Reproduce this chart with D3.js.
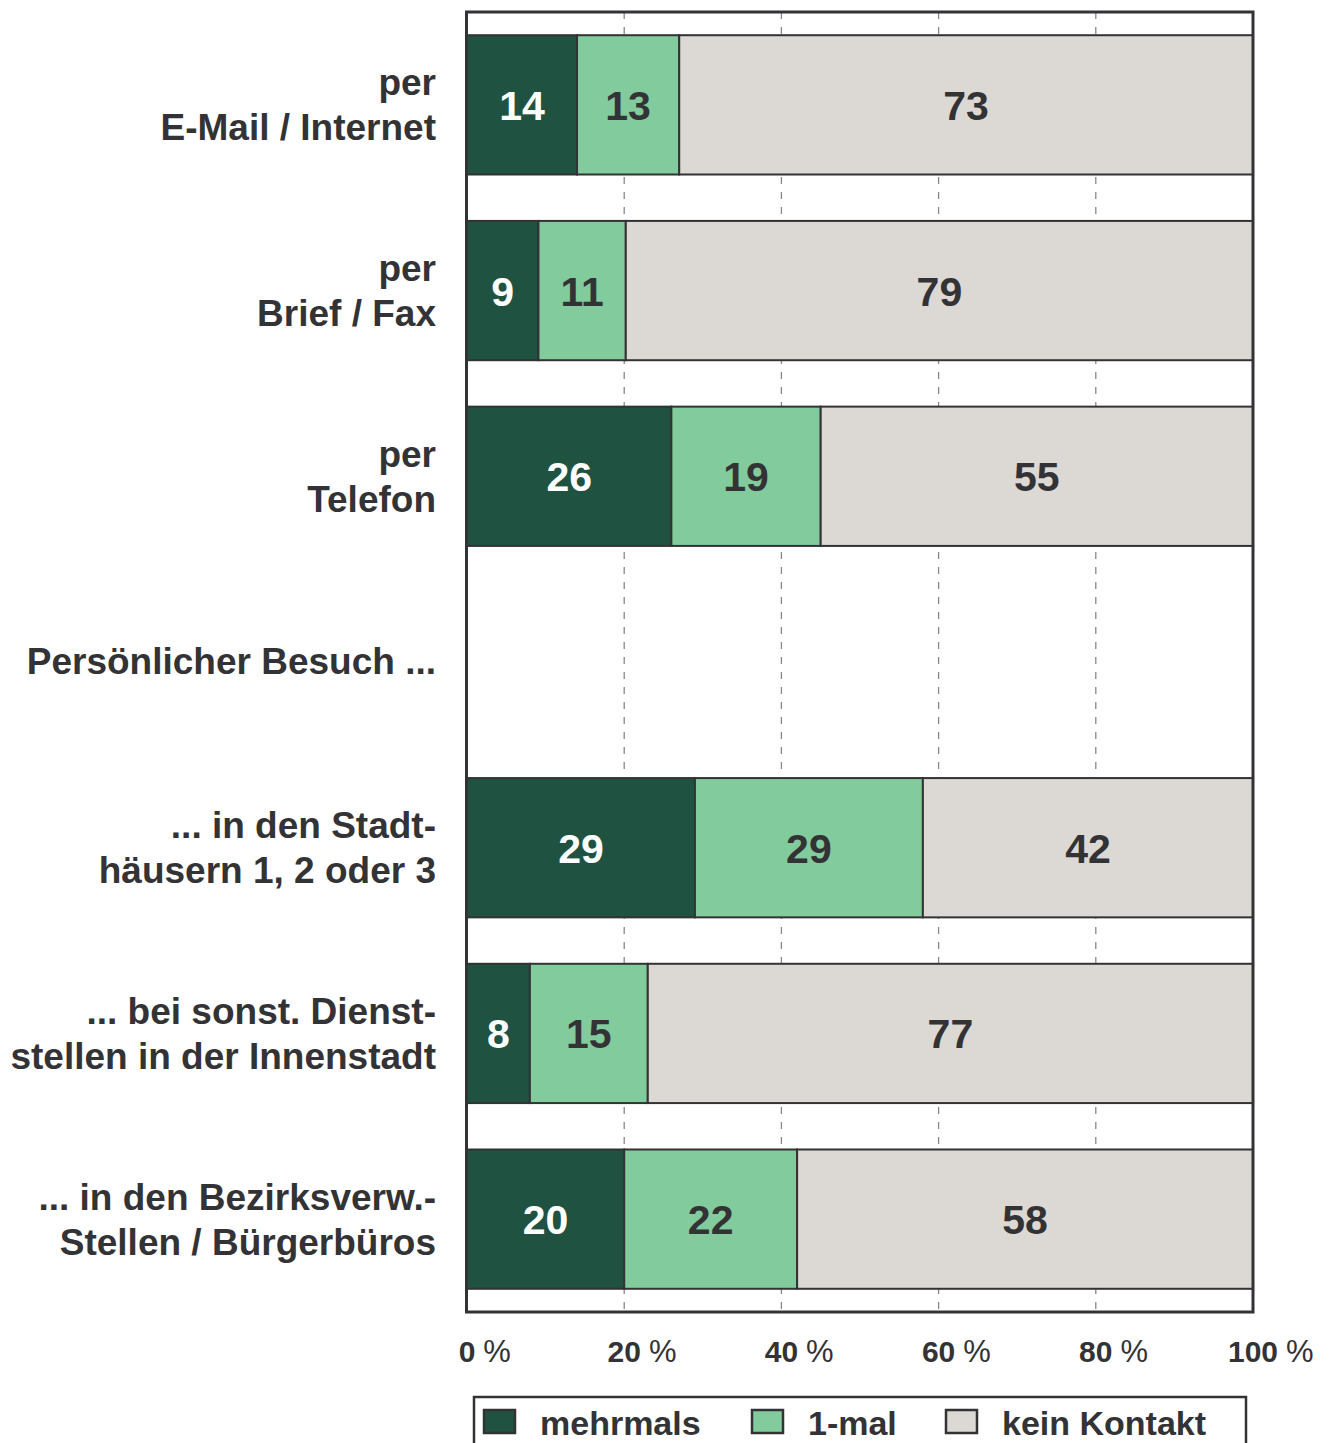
<!DOCTYPE html>
<html>
<head>
<meta charset="utf-8">
<script src="https://cdn.jsdelivr.net/npm/d3@7"></script>
<style>
  body { margin: 0; background: #fff; }
  svg { display: block; font-family: "Liberation Sans", Arial, sans-serif; }
</style>
</head>
<body>
<svg id="chart" width="1330" height="1443"></svg>
<script>
// Kategorien (Zeilen), jeweils Zeilen des Beschriftungstextes
var categories = [
    ["per", "E-Mail / Internet"],
    ["per", "Brief / Fax"],
    ["per", "Telefon"],
    ["Persönlicher Besuch ..."],
    ["... in den Stadt-", "häusern 1, 2 oder 3"],
    ["... bei sonst. Dienst-", "stellen in der Innenstadt"],
    ["... in den Bezirksverw.-", "Stellen / Bürgerbüros"]
];

var seriesNames = ["mehrmals", "1-mal", "kein Kontakt"];

// Werte in Prozent, null = Zwischenüberschrift ohne Balken
var mehrmals    = [14, 9, 26, null, 29, 8, 20];
var einmal      = [13, 11, 19, null, 29, 15, 22];
var keinKontakt = [73, 79, 55, null, 42, 77, 58];

var ticks = [0, 20, 40, 60, 80, 100];

var colors = ["#1f5240", "#82cb9c", "#dcd8d4"];
var textColors = ["#ffffff", "#333336", "#333336"];
var ink = "#333336";

var svg = d3.select("#chart");
var plotLeft = 467, plotRight = 1253, plotTop = 12, plotBottom = 1312;

var x = d3.scaleLinear().domain([0, 100]).range([plotLeft, plotRight]);
var y = d3.scaleBand()
    .domain(d3.range(categories.length))
    .range([plotTop, plotBottom])
    .paddingInner(0.25)
    .paddingOuter(0.125);

// Gitterlinien
svg.append("g")
    .selectAll("line")
    .data(ticks.slice(1, -1))
    .enter().append("line")
    .attr("x1", function(d) { return x(d); })
    .attr("x2", function(d) { return x(d); })
    .attr("y1", plotTop)
    .attr("y2", plotBottom)
    .style("stroke", "#888")
    .style("stroke-width", 1.3)
    .style("stroke-dasharray", "7,8");

// Stapel (auf 100 % normiert, wegen Rundung)
var rows = categories.map(function(c, i) {
    return { idx: i, mehrmals: mehrmals[i], einmal: einmal[i], kein: keinKontakt[i] };
});
var keys = ["mehrmals", "einmal", "kein"];
var stack = d3.stack().keys(keys).offset(d3.stackOffsetExpand);
var stacked = stack(rows.filter(function(r) { return r.mehrmals !== null; }));

var layer = svg.append("g")
    .selectAll("g")
    .data(stacked)
    .enter().append("g");

layer.selectAll("rect")
    .data(function(d) { return d.map(function(s) { return { s: s, key: d.index }; }); })
    .enter().append("rect")
    .attr("x", function(d) { return x(d.s[0] * 100); })
    .attr("width", function(d) { return x(d.s[1] * 100) - x(d.s[0] * 100); })
    .attr("y", function(d) { return y(d.s.data.idx); })
    .attr("height", y.bandwidth())
    .style("fill", function(d) { return colors[d.key]; })
    .style("stroke", ink)
    .style("stroke-width", 2);

layer.selectAll("text")
    .data(function(d) { return d.map(function(s) { return { s: s, key: d.index }; }); })
    .enter().append("text")
    .attr("x", function(d) { return (x(d.s[0] * 100) + x(d.s[1] * 100)) / 2; })
    .attr("y", function(d) { return y(d.s.data.idx) + y.bandwidth() / 2 + 15; })
    .attr("text-anchor", "middle")
    .style("font-size", "41px")
    .style("font-weight", "bold")
    .style("fill", function(d) { return textColors[d.key]; })
    .text(function(d) { return d.s.data[keys[d.key]]; });

// Rahmen
svg.append("rect")
    .attr("x", plotLeft - 0.5)
    .attr("y", plotTop)
    .attr("width", plotRight - plotLeft + 0.5)
    .attr("height", plotBottom - plotTop)
    .style("fill", "none")
    .style("stroke", ink)
    .style("stroke-width", 3);

// Kategorienbeschriftung
var labels = svg.append("g")
    .selectAll("text")
    .data(categories)
    .enter().append("text")
    .attr("text-anchor", "end")
    .style("font-size", "37px")
    .style("font-weight", "bold")
    .style("fill", ink)
    .attr("transform", function(d, i) {
        var c = y(i) + y.bandwidth() / 2;
        var base = d.length == 1 ? c + 12 : c - 9.5;
        return "translate(436," + base + ")";
    });

labels.selectAll("tspan")
    .data(function(d) { return d; })
    .enter().append("tspan")
    .attr("x", 0)
    .attr("y", function(d, i) { return i * 45; })
    .text(function(d) { return d; });

// Achsenbeschriftung: Zahl zentriert auf Tick, " %" dahinter
var tickG = svg.append("g")
    .selectAll("g")
    .data(ticks)
    .enter().append("g");

tickG.append("text")
    .attr("class", "num")
    .attr("x", function(d) { return x(d); })
    .attr("y", 1362)
    .attr("text-anchor", "middle")
    .style("font-size", "30px")
    .style("font-weight", "bold")
    .style("fill", ink)
    .text(function(d) { return d; });

tickG.append("text")
    .attr("x", function(d) {
        var w = this.parentNode.querySelector(".num").getComputedTextLength();
        return x(d) + w / 2 + 8;
    })
    .attr("y", 1362)
    .style("font-size", "31px")
    .style("fill", ink)
    .text("%");

// Legende
svg.append("rect")
    .attr("x", 474)
    .attr("y", 1397)
    .attr("width", 772)
    .attr("height", 80)
    .style("fill", "#fff")
    .style("stroke", ink)
    .style("stroke-width", 2.5);

var legendX = [484, 752, 946];
var legend = svg.append("g")
    .selectAll("g")
    .data(seriesNames)
    .enter().append("g")
    .attr("transform", function(d, i) { return "translate(" + legendX[i] + ",1410)"; });

legend.append("rect")
    .attr("width", 31)
    .attr("height", 23)
    .style("fill", function(d, i) { return colors[i]; })
    .style("stroke", ink)
    .style("stroke-width", 2.5);

legend.append("text")
    .attr("x", 56)
    .attr("y", 25)
    .style("font-size", "34px")
    .style("font-weight", "bold")
    .style("fill", ink)
    .text(function(d) { return d; });
</script>
</body>
</html>
